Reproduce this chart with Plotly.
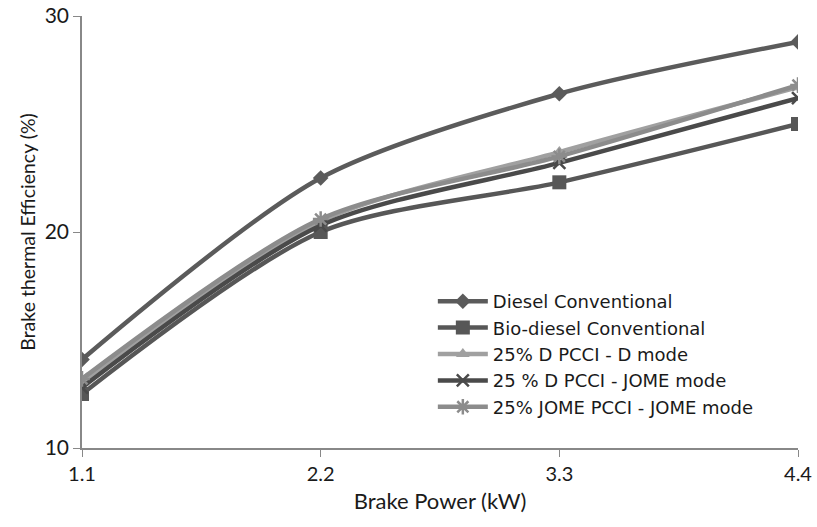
import plotly.graph_objects as go

x_labels = ["1.1", "2.2", "3.3", "4.4"]
x_vals = [1.1, 2.2, 3.3, 4.4]
diesel = [14.1, 22.5, 26.4, 28.8]
biodiesel = [12.5, 20.0, 22.3, 25.0]
d_pcci_d = [13.0, 20.5, 23.7, 26.7]
d_pcci_jome = [12.8, 20.3, 23.2, 26.2]
jome_pcci_jome = [13.2, 20.6, 23.5, 26.8]

series = [
    ("Diesel Conventional", diesel, "#5b5b5b", "diamond", 12),
    ("Bio-diesel Conventional", biodiesel, "#575757", "square", 14),
    ("25% D PCCI - D mode", d_pcci_d, "#a0a0a0", "triangle-up", 12),
    ("25 % D PCCI - JOME mode", d_pcci_jome, "#4a4a4a", "x-thin", 12),
    ("25% JOME PCCI - JOME mode", jome_pcci_jome, "#8c8c8c", "asterisk", 13),
]

fig = go.Figure()
for name, vals, color, sym, size in series:
    thin = sym in ("x-thin", "asterisk")
    fig.add_trace(go.Scatter(
        x=x_vals, y=vals, name=name, mode="lines+markers",
        line=dict(color=color, width=4.5, shape="spline", smoothing=0.8),
        marker=dict(symbol=sym, size=size, color=color,
                    line=dict(color=color, width=2.5 if thin else 0)),
    ))

fig.update_layout(
    width=817, height=527,
    margin=dict(l=82, r=19, t=16, b=79),
    paper_bgcolor="white", plot_bgcolor="white",
    font=dict(family="Open Sans, Lato, sans-serif", size=16, color="#1a1a1a"),
    showlegend=True,
    legend=dict(x=0.49, y=0.382, xanchor="left", yanchor="top",
                bgcolor="rgba(255,255,255,0)",
                font=dict(family="DejaVu Sans, sans-serif", size=18),
                tracegroupgap=0, itemwidth=50),
    xaxis=dict(
        range=[1.1, 4.4], tickvals=x_vals, ticktext=x_labels, automargin=False,
        showgrid=False, zeroline=False, showline=True, linecolor="#888",
        linewidth=1.5, ticks="outside", ticklen=7, tickcolor="#888",
        title=dict(text="Brake Power (kW)", font=dict(family="Lato, sans-serif", size=22), standoff=10),
        tickfont=dict(family="Lato, sans-serif", size=20),
    ),
    yaxis=dict(
        range=[10, 30], tickvals=[10, 20, 30], automargin=False,
        showgrid=False, zeroline=False, showline=True, linecolor="#888",
        linewidth=1.5, ticks="outside", ticklen=7, tickcolor="#888",
        title=dict(text="Brake thermal Efficiency (%)", font=dict(family="Lato, sans-serif", size=19.5), standoff=4),
        tickfont=dict(family="Lato, sans-serif", size=21),
    ),
)
# remove the browser's default 8px page margin so the figure fills the window
fig.write_html("out.html", config={"displayModeBar": False},
               post_script="document.body.style.margin='0';")
